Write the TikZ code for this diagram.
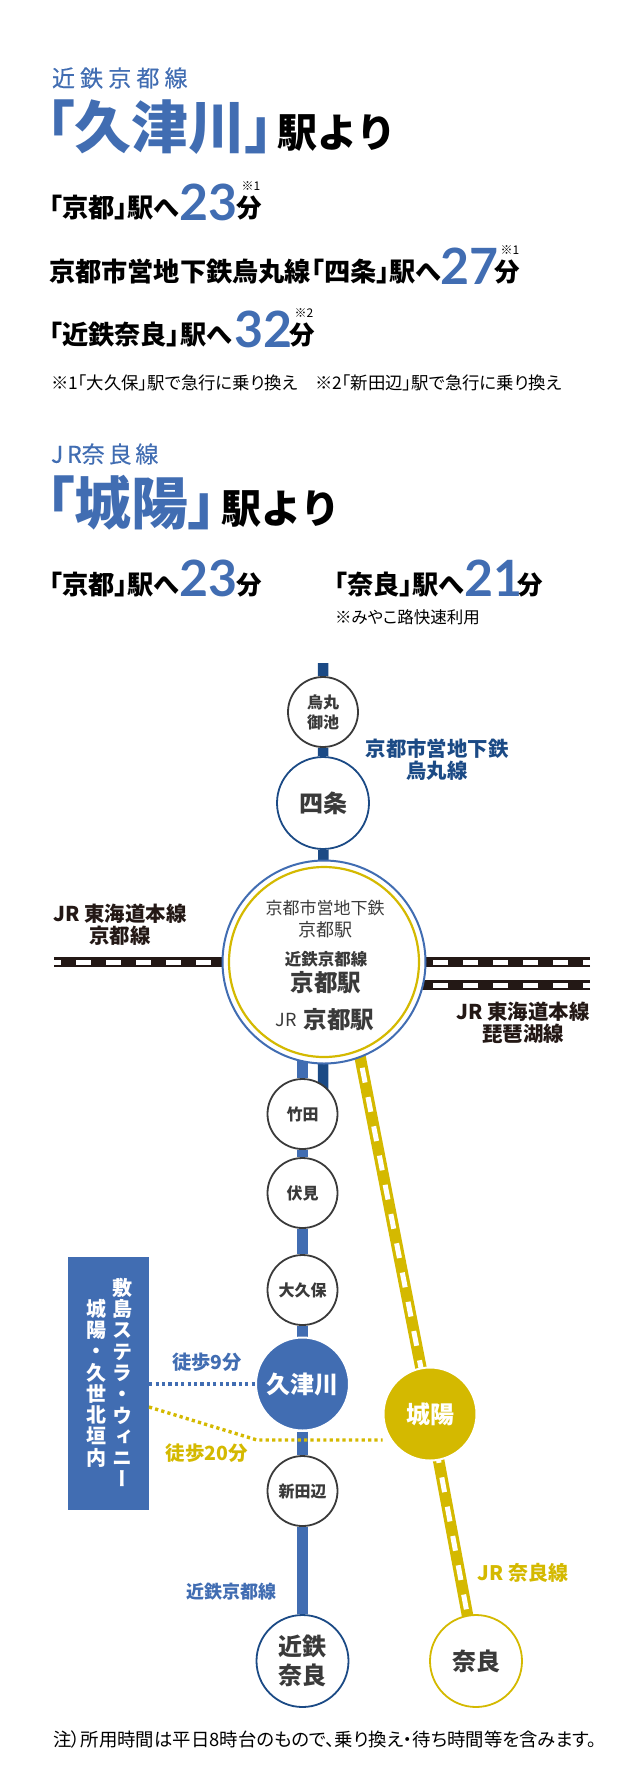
\documentclass[tikz,border=0pt]{standalone}
\usepackage{fontspec}
\setmainfont[RawFeature={+palt}]{Noto Sans CJK JP}
\newfontfamily\jpvert[RawFeature={+vert}]{Noto Sans CJK JP}
\newfontfamily\jpfull{Noto Sans CJK JP}
\newfontfamily\jpmid[FakeBold=0.3]{Noto Sans CJK JP}
\newfontfamily\numfont{Lato}
\usetikzlibrary{backgrounds}
\definecolor{kintetsu}{HTML}{416DB2}
\definecolor{subway}{HTML}{1B4A85}
\definecolor{jrnara}{HTML}{D4B900}
\definecolor{tokaido}{HTML}{231815}
\definecolor{inktext}{HTML}{3A3A3A}
\newcommand{\fs}[1]{\fontsize{#1}{#1}\selectfont}
\tikzset{
  lbl/.style={inner sep=0pt,outer sep=0pt},
  txt/.style={lbl,anchor=west,font=\bfseries\fs{26.2}},
  num/.style={lbl,text=kintetsu,font=\numfont\bfseries\fs{50}},
  fun/.style={lbl,font=\bfseries\fs{25.5}},
  ref/.style={lbl,font=\fs{12}},
  note/.style={lbl,anchor=west,font=\fs{17.4}},
  stn/.style={circle,draw=#1,fill=white,line width=1.8pt,inner sep=0pt,align=center,text=inktext},
  small/.style={stn=inktext,minimum size=70pt,font=\bfseries\fs{16}},
  large/.style={stn=#1,minimum size=92pt,font=\bfseries\fs{24}},
  solid stn/.style={circle,draw=white,fill=#1,line width=2pt,minimum size=93pt,inner sep=0pt,text=white,font=\bfseries\fs{24}},
  rail/.style={line width=10.5pt,#1},
  railw/.style={white,line width=5pt,dash pattern=on 15pt off 15pt,dash phase=8pt},
  walk/.style={#1,line width=3.4pt,dash pattern=on 3.2pt off 3.2pt},
  linename/.style={lbl,align=center,font=\bfseries\fs{20.4}}
}
\begin{document}
\begin{tikzpicture}[x=1pt,y=-1pt]
\useasboundingbox (0,0) rectangle (640,1770);
% header, kintetsu
\node[lbl,anchor=west,text=kintetsu,font=\jpmid\fs{23}] (kline) at (52,78) {近 鉄 京 都 線};
\node[lbl,anchor=west,text=kintetsu,font=\bfseries\fs{57}] (kname) at (46,127) {「久津川」\kern-16pt};
\node[lbl,anchor=west,font=\jpfull\bfseries\fs{40}] (kfrom) at (277,133) {駅より};
\node[txt] (a1) at (49,208) {「京都」駅へ};
\node[num] (a1n) at (208,202) {23};
\node[fun] (a1m) at (249,208) {分};
\node[ref] (a1r) at (251,186) {※1};
\node[txt] (a2) at (49,272) {京都市営地下鉄烏丸線「四条」駅へ};
\node[num] (a2n) at (469,266) {27};
\node[fun] (a2m) at (507,272) {分};
\node[ref] (a2r) at (510,250) {※1};
\node[txt] (a3) at (49,335) {「近鉄奈良」駅へ};
\node[num] (a3n) at (263,329) {32};
\node[fun] (a3m) at (302,335) {分};
\node[ref] (a3r) at (304,313) {※2};
\node[note] (anote) at (51,383) {※1「大久保」駅で急行に乗り換え　※2「新田辺」駅で急行に乗り換え};
% header, jr
\node[lbl,anchor=west,text=kintetsu,font=\jpmid\fs{23}] (jline) at (51,454) {J\,R奈\,良\,線};
\node[lbl,anchor=west,text=kintetsu,font=\bfseries\fs{57}] (jname) at (46,503) {「城陽」\kern-16pt};
\node[lbl,anchor=west,font=\jpfull\bfseries\fs{40}] (jfrom) at (221,509) {駅より};
\node[txt] (b1) at (49,585) {「京都」駅へ};
\node[num] (b1n) at (208,578) {23};
\node[fun] (b1m) at (249,585) {分};
\node[txt] (b2) at (334,585) {「奈良」駅へ};
\node[num] (b2n) at (493,578) {21};
\node[fun] (b2m) at (530,585) {分};
\node[note,font=\fs{16.5}] (bnote) at (335,617) {※みやこ路快速利用};
% stations
\node[small] (oike) at (323,712) {烏丸\\[4pt]御池};
\node[large=subway] (shijo) at (323,803) {四条};
\node[stn=kintetsu,line width=2pt,minimum size=203pt] (kyoto) at (324,962) {};
\node[stn=jrnara,line width=2.2pt,minimum size=190pt] (kyotoin) at (324,962) {};
\node[small] (take) at (302.5,1114) {竹田};
\node[small] (fushimi) at (302.5,1193) {伏見};
\node[small] (okubo) at (302.5,1290) {大久保};
\node[solid stn=kintetsu] (kutsu) at (302.5,1384) {久津川};
\node[small] (tana) at (302.5,1491) {新田辺};
\node[large=subway] (knara) at (302.5,1661) {近鉄\\[5pt]奈良};
\node[solid stn=jrnara] (joyo) at (430,1414) {城陽};
\node[large=jrnara] (nara) at (476,1661) {奈良};
% kyoto station text
\node[lbl,text=inktext,font=\fs{17}] (ks1) at (325,908) {京都市営地下鉄};
\node[lbl,text=inktext,font=\fs{18}] (ks2) at (325,930) {京都駅};
\node[lbl,text=inktext,font=\bfseries\fs{16.5}] (ks3) at (326,959) {近鉄京都線};
\node[lbl,text=inktext,font=\bfseries\fs{23.5}] (ks4) at (326,983) {京都駅};
\node[lbl,text=inktext,font=\fs{18}] (ks5) at (286,1020) {JR};
\node[lbl,text=inktext,font=\bfseries\fs{23.5}] (ks6) at (339,1020) {京都駅};
% line names
\node[linename,text=subway] (lsub) at (437,760) {京都市営地下鉄\\[2pt]烏丸線};
\node[linename,text=tokaido] (ll) at (120,925) {JR 東海道本線\\[2pt]京都線};
\node[linename,text=tokaido] (lr) at (523,1023) {JR 東海道本線\\[2pt]琵琶湖線};
\node[lbl,text=kintetsu,font=\bfseries\fs{18}] (lk) at (231,1592) {近鉄京都線};
\node[lbl,text=jrnara,font=\bfseries\fs{20}] (lj) at (523,1573) {JR 奈良線};
% box
\node[fill=kintetsu,minimum width=81pt,minimum height=253pt,inner sep=0pt] (area) at (108.5,1383.5) {};
\node[lbl,text=white,align=center,font=\jpvert\bfseries\fs{20}] (area1) at (122,1382.5) {敷\\[1.3pt]島\\[1.3pt]ス\\[1.3pt]テ\\[1.3pt]ラ\\[1.3pt]・\\[1.3pt]ウ\\[1.3pt]ィ\\[1.3pt]ニ\\[1.3pt]ー};
\node[lbl,text=white,align=center,font=\jpvert\bfseries\fs{20}] (area2) at (96,1383) {城\\[1.3pt]陽\\[1.3pt]・\\[1.3pt]久\\[1.3pt]世\\[1.3pt]北\\[1.3pt]垣\\[1.3pt]内};
% walking
\node[lbl,text=kintetsu,font=\bfseries\fs{19.3}] (w9) at (207,1362) {徒歩9分};
\node[lbl,text=jrnara,font=\bfseries\fs{19.5}] (w20) at (207,1453) {徒歩20分};
\node[lbl] (bottom) at (325,1739) {\fs{18.4}注）所用時間は平日8時台のもので、乗り換え・待ち時間等を含みます。};
\coordinate (subtop) at (323,663);
\coordinate (subend) at (323,1090);
\coordinate (ltrack) at (54,962);
\coordinate (rtracka) at (590,962);
\coordinate (rtrackb) at (590,985);
\coordinate (jrtop) at (346,985);
\coordinate (bend) at (257,1440);
\coordinate (yel) at (149,1407);
\begin{scope}[on background layer]
\draw[rail=subway] (subtop) -- (oike) -- (shijo) -- (kyoto.center) (kyoto.center) -- (subend);
\draw[rail=kintetsu] (take |- kyoto) -- (take) -- (fushimi) -- (okubo) -- (kutsu) -- (tana) -- (knara);
\draw[rail=tokaido] (ltrack) -- (kyoto.center);
\draw[railw] (ltrack) -- (kyoto.center);
\draw[rail=tokaido] (rtracka) -- (kyoto.center);
\draw[railw] (rtracka) -- (kyoto.center);
\draw[rail=tokaido] (rtrackb) -- (rtrackb -| kyoto);
\draw[railw] (rtrackb) -- (rtrackb -| kyoto);
\draw[rail=jrnara,line width=11.5pt] (jrtop) -- (joyo.center) -- (nara.center);
\draw[white,line width=5pt,dash pattern=on 15pt off 14.8pt,dash phase=5pt] (jrtop) -- (joyo.center) -- (nara.center);
\end{scope}
\draw[walk=kintetsu] (area.east |- kutsu) -- (kutsu.west);
\draw[walk=jrnara] (yel) -- (bend) -- (joyo.west |- bend);
\end{tikzpicture}
\end{document}
